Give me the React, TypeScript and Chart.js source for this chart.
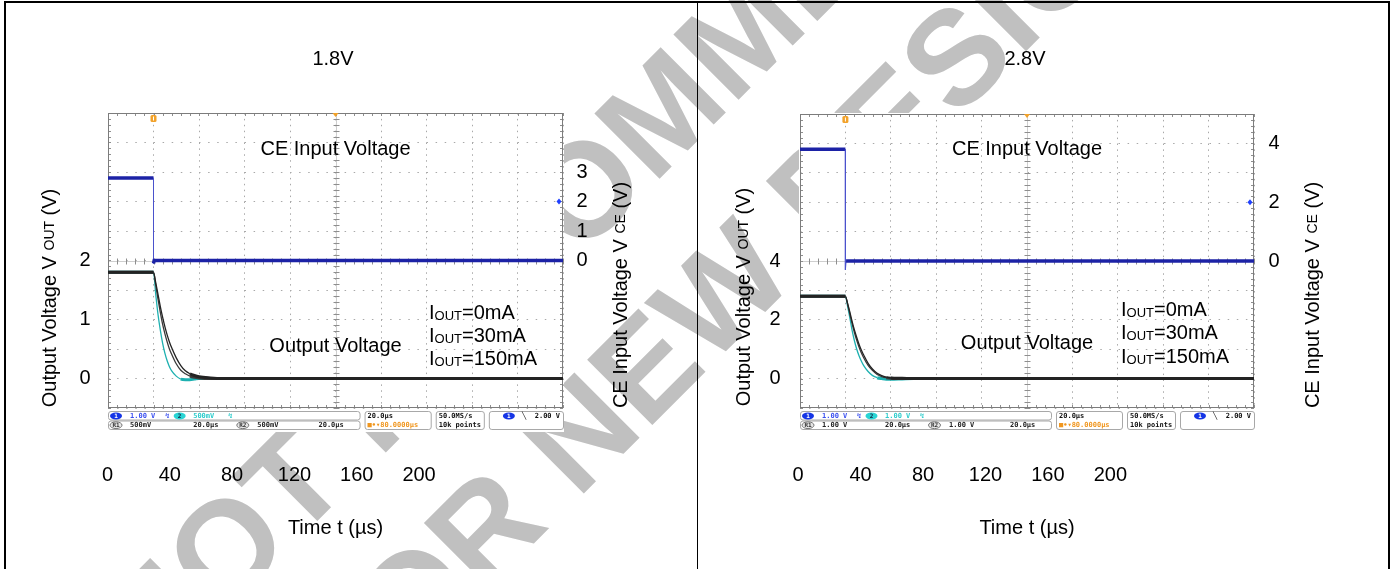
import React, { useEffect, useRef } from 'react';
import { Chart, registerables } from 'chart.js';

Chart.register(...registerables);

const FONT = '"Liberation Sans", Arial, Helvetica, sans-serif';
const MONO = '"DejaVu Sans Mono", monospace';
const PAGE_H = 569;

// ---------- data (time in µs, voltages in V) ----------
const timeUs = [0, 20, 21, 22, 23, 24, 25, 26, 27, 28, 30, 32, 34, 36, 38, 40, 45, 50, 200];
const ceTimeUs = [0, 20, 20, 20.3, 200];

// 1.8V version
const ce18V = [2.8, 2.8, -0.1, 0, 0];
const out18V_0mA = [1.8, 1.8, 1.62, 1.42, 1.22, 1.04, 0.88, 0.74, 0.62, 0.52, 0.35, 0.22, 0.13, 0.08, 0.05, 0.03, 0.01, 0, 0];
const out18V_30mA = [1.8, 1.8, 1.58, 1.34, 1.12, 0.92, 0.76, 0.62, 0.5, 0.41, 0.25, 0.14, 0.08, 0.04, 0.02, 0.01, 0, 0, 0];
const out18V_150mA = [1.8, 1.8, 1.42, 1.08, 0.82, 0.6, 0.43, 0.3, 0.2, 0.13, 0.04, -0.01, -0.02, -0.02, -0.01, 0, 0, 0, 0];

// 2.8V version
const ce28V = [3.8, 3.8, -0.3, 0, 0];
const out28V_0mA = [2.8, 2.8, 2.55, 2.25, 1.93, 1.65, 1.4, 1.17, 0.97, 0.81, 0.52, 0.32, 0.18, 0.1, 0.05, 0.02, 0.01, 0, 0];
const out28V_30mA = [2.8, 2.8, 2.52, 2.18, 1.85, 1.56, 1.3, 1.07, 0.88, 0.72, 0.45, 0.27, 0.14, 0.07, 0.03, 0.01, 0, 0, 0];
const out28V_150mA = [2.8, 2.8, 2.45, 2.05, 1.62, 1.28, 1.0, 0.78, 0.6, 0.45, 0.24, 0.1, 0.03, 0, -0.02, -0.02, -0.01, 0, 0];

// tick labels
const timeTickLabels = [0, 40, 80, 120, 160, 200];
const out18Ticks = [0, 1, 2];
const ce18Ticks = [0, 1, 2, 3];
const out28Ticks = [0, 2, 4];
const ce28Ticks = [0, 2, 4];
const loadLabels = ['=0mA', '=30mA', '=150mA'];

// ---------- panel configuration (layout / styling) ----------
type PanelCfg = {
  key: string;
  offsetX: number;
  width: number;
  plot: { left: number; right: number; top: number; bottom: number };
  title: string;
  titlePos: [number, number];
  outRange: [number, number];
  outTicks: number[];
  ceTicks: number[];
  ce: number[];
  outs: number[][];
  timeLabelRange: [number, number];
  leftTickPad: number;
  rightTickPad: number;
  leftTitle: [number, number];
  rightTitle: [number, number];
  ceText: [number, number];
  outText: [number, number];
  legendX: number;
  legendY: number[];
  ch2: string;
  ref: string;
};

const panels: PanelCfg[] = [
  {
    key: 'p18',
    offsetX: 0,
    width: 697,
    plot: { left: 108, right: 563, top: 113, bottom: 408 },
    title: '1.8V',
    titlePos: [333, 58],
    outRange: [-0.5, 4.5],
    outTicks: out18Ticks,
    ceTicks: ce18Ticks,
    ce: ce18V,
    outs: [out18V_0mA, out18V_30mA, out18V_150mA],
    timeLabelRange: [0.32, 292.4],
    leftTickPad: 17.5,
    rightTickPad: 13.5,
    leftTitle: [49, 298],
    rightTitle: [620, 295],
    ceText: [100, 3.8],
    outText: [100, 0.57],
    legendX: 141.1,
    legendY: [1.13, 0.74, 0.35],
    ch2: '500mV',
    ref: '500mV',
  },
  {
    key: 'p28',
    offsetX: 697,
    width: 695,
    plot: { left: 800, right: 1254, top: 114, bottom: 408 },
    title: '2.8V',
    titlePos: [1025, 58],
    outRange: [-1, 9],
    outTicks: out28Ticks,
    ceTicks: ce28Ticks,
    ce: ce28V,
    outs: [out28V_0mA, out28V_30mA, out28V_150mA],
    timeLabelRange: [1.22, 292.0],
    leftTickPad: 19.5,
    rightTickPad: 14.5,
    leftTitle: [743, 297],
    rightTitle: [1312, 295],
    ceText: [100, 3.84],
    outText: [100, 1.24],
    legendX: 141.4,
    legendY: [2.37, 1.58, 0.77],
    ch2: '1.00 V',
    ref: '1.00 V',
  },
];

const CE_COLOR = '#1c22a6';
const TRACE_COLORS = ['#232323', '#3a3a3a', '#1db0b0'];

// ---------- drawing helpers ----------
type Part = { t: string; size: number; dy?: number };

function partsWidth(ctx: CanvasRenderingContext2D, parts: Part[]) {
  let w = 0;
  for (const p of parts) {
    ctx.font = `${p.size}px ${FONT}`;
    w += ctx.measureText(p.t).width;
  }
  return w;
}

function drawParts(ctx: CanvasRenderingContext2D, parts: Part[], x: number, baseline: number) {
  let cx = x;
  ctx.textAlign = 'left';
  ctx.textBaseline = 'alphabetic';
  for (const p of parts) {
    ctx.font = `${p.size}px ${FONT}`;
    ctx.fillText(p.t, cx, baseline + (p.dy || 0));
    cx += ctx.measureText(p.t).width;
  }
}

function drawRotatedTitle(ctx: CanvasRenderingContext2D, parts: Part[], cx: number, cy: number) {
  ctx.save();
  ctx.fillStyle = '#000';
  ctx.translate(cx, cy);
  ctx.rotate(-Math.PI / 2);
  const w = partsWidth(ctx, parts);
  drawParts(ctx, parts, -w / 2, 7);
  ctx.restore();
}

function drawWatermark(ctx: CanvasRenderingContext2D) {
  const ang = Math.PI / 4;
  ctx.fillStyle = '#c0c0c0';
  ctx.font = `bold 134px ${FONT}`;
  ctx.textAlign = 'left';
  ctx.textBaseline = 'middle';
  const lines: [string, number, number][] = [
    ['NOT RECOMMENDED', 127, 659],
    ['FOR NEW DESIGN', 325, 700],
  ];
  for (const [txt, x, y] of lines) {
    ctx.save();
    ctx.translate(x, y);
    ctx.rotate(-ang);
    ctx.fillText(txt, 0, 0);
    ctx.restore();
  }
}

function line(ctx: CanvasRenderingContext2D, x1: number, y1: number, x2: number, y2: number) {
  ctx.beginPath();
  ctx.moveTo(x1, y1);
  ctx.lineTo(x2, y2);
  ctx.stroke();
}

function rrect(ctx: CanvasRenderingContext2D, x: number, y: number, w: number, h: number, r: number) {
  ctx.beginPath();
  if ((ctx as any).roundRect) (ctx as any).roundRect(x, y, w, h, r);
  else ctx.rect(x, y, w, h);
}

function drawStatusBar(ctx: CanvasRenderingContext2D, L: number, R: number, top: number, cfg: PanelCfg) {
  const k = (R - L) / 454;
  const X = (v: number) => L + v * k;
  ctx.save();
  ctx.lineWidth = 1;
  ctx.strokeStyle = '#a8a8a8';
  ctx.fillStyle = '#fff';
  const box = (x0: number, x1: number, y: number, h: number) => {
    rrect(ctx, X(x0) + 0.5, y + 0.5, (x1 - x0) * k, h, 2.5);
    ctx.fill();
    ctx.stroke();
  };
  box(0, 251, top, 8.5);
  box(0, 251, top + 9.5, 8.5);
  box(256, 322, top, 18);
  box(327, 375, top, 18);
  box(380, 454, top, 18);
  const r1 = top + 5;
  const r2 = top + 14.2;
  const txt = (s: string, x: number, y: number, c: string, align: CanvasTextAlign = 'left') => {
    ctx.font = `bold 7px ${MONO}`;
    ctx.textAlign = align;
    ctx.textBaseline = 'middle';
    ctx.fillStyle = c;
    ctx.fillText(s, X(x), y);
  };
  const badge = (x: number, y: number, label: string, fill: string, tc: string, outline = false) => {
    ctx.beginPath();
    ctx.ellipse(X(x), y, 6 * k, 3.4, 0, 0, Math.PI * 2);
    ctx.fillStyle = fill;
    ctx.fill();
    if (outline) {
      ctx.strokeStyle = '#777';
      ctx.stroke();
    }
    ctx.font = `bold 6px ${MONO}`;
    ctx.textAlign = 'center';
    ctx.textBaseline = 'middle';
    ctx.fillStyle = tc;
    ctx.fillText(label, X(x), y + 0.3);
  };
  badge(8, r1, '1', '#1535e6', '#fff');
  txt('1.00 V', 22, r1, '#3a50f0');
  txt('\u21AF', 57, r1, '#3a50f0');
  badge(71.5, r1, '2', '#29d4d4', '#124');
  txt(cfg.ch2, 85, r1, '#2ccccc');
  txt('\u21AF', 120, r1, '#2ccccc');
  badge(8, r2, 'R1', '#e6e6e6', '#333', true);
  txt(cfg.ref, 22, r2, '#222');
  txt('20.0\u00B5s', 85, r2, '#222');
  badge(134.5, r2, 'R2', '#e6e6e6', '#333', true);
  txt(cfg.ref, 149, r2, '#222');
  txt('20.0\u00B5s', 210, r2, '#222');
  txt('20.0\u00B5s', 259, r1, '#111');
  txt('\u25A0\u2022\u25BE80.0000\u00B5s', 259, r2, '#f0961e');
  txt('50.0MS/s', 330, r1, '#111');
  txt('10k points', 330, r2, '#111');
  badge(400, r1, '1', '#1535e6', '#fff');
  txt('\u2572', 413, r1, '#111');
  txt('2.00 V', 451, r1, '#111', 'right');
  ctx.restore();
}

function makeDecor(cfg: PanelCfg) {
  const ox = cfg.offsetX;
  return {
    id: 'scopeDecor_' + cfg.key,
    beforeDraw(chart: any) {
      const ctx: CanvasRenderingContext2D = chart.ctx;
      const a = chart.chartArea;
      ctx.save();
      ctx.translate(-ox, 0);
      drawWatermark(ctx);
      ctx.restore();
      ctx.save();
      ctx.fillStyle = '#ffffff';
      ctx.fillRect(a.left - 1, a.top - 1, a.right - a.left + 2, a.bottom - a.top + 25);
      ctx.restore();
    },
    beforeDatasetsDraw(chart: any) {
      const ctx: CanvasRenderingContext2D = chart.ctx;
      const a = chart.chartArea;
      const xs = chart.scales.x;
      const yg = chart.scales.yg;
      ctx.save();
      ctx.lineWidth = 1;
      const cx = Math.round(xs.getPixelForValue(100)) + 0.5;
      const cy = Math.round(yg.getPixelForValue(0)) + 0.5;
      ctx.strokeStyle = '#cfcfcf';
      line(ctx, cx, a.top, cx, a.bottom);
      line(ctx, a.left, cy, a.right, cy);
      ctx.strokeStyle = '#8e8e8e';
      for (let t = 0; t <= 200.001; t += 4) {
        const px = Math.round(xs.getPixelForValue(t)) + 0.5;
        line(ctx, px, cy - 3, px, cy + 3);
        line(ctx, px, a.top, px, a.top + 3);
        line(ctx, px, a.bottom - 3, px, a.bottom);
      }
      for (let v = -5; v <= 5.001; v += 0.2) {
        const py = Math.round(yg.getPixelForValue(v)) + 0.5;
        line(ctx, cx - 3, py, cx + 3, py);
        line(ctx, a.left, py, a.left + 3, py);
        line(ctx, a.right - 3, py, a.right, py);
      }
      ctx.strokeStyle = '#7c7c7c';
      ctx.strokeRect(a.left + 0.5, a.top + 0.5, a.right - a.left - 1, a.bottom - a.top - 1);
      ctx.restore();
    },
    afterDatasetsDraw(chart: any) {
      const ctx: CanvasRenderingContext2D = chart.ctx;
      const a = chart.chartArea;
      const xs = chart.scales.x;
      const yL = chart.scales.yL;
      const yR = chart.scales.yR;
      ctx.save();
      // trigger position marker
      const tx = xs.getPixelForValue(20);
      ctx.fillStyle = '#f2a22a';
      rrect(ctx, tx - 3, a.top + 2, 6, 7, 1.5);
      ctx.fill();
      ctx.fillStyle = '#fff';
      ctx.fillRect(tx - 0.5, a.top + 3.5, 1, 4);
      // horizontal position marker
      const mx = xs.getPixelForValue(100);
      ctx.fillStyle = '#f2a22a';
      ctx.beginPath();
      ctx.moveTo(mx - 3, a.top);
      ctx.lineTo(mx + 3, a.top);
      ctx.lineTo(mx, a.top + 4);
      ctx.closePath();
      ctx.fill();
      // trigger level marker
      const ty = yR.getPixelForValue(2);
      ctx.fillStyle = '#2040ff';
      ctx.beginPath();
      ctx.moveTo(a.right - 4, ty - 3);
      ctx.lineTo(a.right - 1.5, ty);
      ctx.lineTo(a.right - 4, ty + 3);
      ctx.lineTo(a.right - 6.5, ty);
      ctx.closePath();
      ctx.fill();
      // annotations
      ctx.fillStyle = '#000';
      ctx.font = `20px ${FONT}`;
      ctx.textAlign = 'center';
      ctx.textBaseline = 'alphabetic';
      ctx.fillText('CE Input Voltage', xs.getPixelForValue(cfg.ceText[0]), yR.getPixelForValue(cfg.ceText[1]) + 7);
      ctx.fillText('Output Voltage', xs.getPixelForValue(cfg.outText[0]), yL.getPixelForValue(cfg.outText[1]) + 7);
      const lx = xs.getPixelForValue(cfg.legendX);
      loadLabels.forEach((lab, i) => {
        const y = yL.getPixelForValue(cfg.legendY[i]) + 7;
        drawParts(ctx, [{ t: 'I', size: 20 }, { t: 'OUT', size: 13, dy: 1 }, { t: lab, size: 20 }], lx, y);
      });
      ctx.restore();
    },
    afterDraw(chart: any) {
      const ctx: CanvasRenderingContext2D = chart.ctx;
      const a = chart.chartArea;
      ctx.save();
      ctx.fillStyle = '#000';
      ctx.font = `20px ${FONT}`;
      ctx.textAlign = 'center';
      ctx.textBaseline = 'alphabetic';
      ctx.fillText(cfg.title, cfg.titlePos[0] - ox, cfg.titlePos[1] + 7);
      drawRotatedTitle(
        ctx,
        [{ t: 'Output Voltage V ', size: 20 }, { t: 'OUT', size: 14, dy: -2 }, { t: ' (V)', size: 20 }],
        cfg.leftTitle[0] - ox,
        cfg.leftTitle[1]
      );
      drawRotatedTitle(
        ctx,
        [{ t: 'CE Input Voltage V ', size: 20 }, { t: 'CE', size: 14, dy: -2 }, { t: ' (V)', size: 20 }],
        cfg.rightTitle[0] - ox,
        cfg.rightTitle[1]
      );
      drawStatusBar(ctx, a.left, a.right, a.bottom + 3, cfg);
      ctx.restore();
    },
  };
}

function buildConfig(cfg: PanelCfg): any {
  const ox = cfg.offsetX;
  const L = cfg.plot.left - ox;
  const R = cfg.plot.right - ox;
  const T = cfg.plot.top;
  const B = cfg.plot.bottom;
  const pts = (xs: number[], ys: number[]) => xs.map((x, i) => ({ x, y: ys[i] }));
  const tickFont = { family: FONT, size: 20 };
  const outDatasets = cfg.outs.map((arr, i) => ({
    label: 'IOUT' + loadLabels[i],
    data: pts(timeUs, arr),
    yAxisID: 'yL',
    xAxisID: 'x',
    borderColor: TRACE_COLORS[i],
    borderWidth: 3,
    pointRadius: 0,
    cubicInterpolationMode: 'monotone',
    segment: {
      borderWidth: (c: any) => (Math.abs(c.p1.parsed.y - c.p0.parsed.y) > 0.03 ? 1.3 : 3),
    },
  }));
  return {
    type: 'line',
    data: {
      datasets: [
        {
          label: 'CE Input Voltage',
          data: pts(ceTimeUs, cfg.ce),
          yAxisID: 'yR',
          xAxisID: 'x',
          borderColor: CE_COLOR,
          borderWidth: 3.5,
          pointRadius: 0,
          tension: 0,
          segment: {
            borderWidth: (c: any) => (Math.abs(c.p1.parsed.y - c.p0.parsed.y) > 0.2 ? 1 : 3.5),
            borderColor: (c: any) => (Math.abs(c.p1.parsed.y - c.p0.parsed.y) > 0.2 ? '#4a52cc' : CE_COLOR),
          },
        },
        ...outDatasets,
      ],
    },
    options: {
      responsive: false,
      animation: false,
      events: [],
      layout: { padding: { left: 0, right: 0, top: T, bottom: 0 }, autoPadding: false },
      plugins: {
        legend: { display: false },
        tooltip: { enabled: false },
        title: { display: false },
      },
      scales: {
        x: {
          type: 'linear',
          position: 'bottom',
          min: 0,
          max: 200,
          ticks: { stepSize: 20, display: false },
          grid: { color: '#a9a9a9', drawTicks: false },
          border: { display: false, dash: [1.5, 4.4] },
          afterFit: (s: any) => {
            s.height = 0;
          },
        },
        xl: {
          type: 'linear',
          position: 'bottom',
          min: cfg.timeLabelRange[0],
          max: cfg.timeLabelRange[1],
          afterBuildTicks: (s: any) => {
            s.ticks = timeTickLabels.map((v) => ({ value: v }));
          },
          ticks: { font: tickFont, color: '#000', padding: 55, maxRotation: 0, autoSkip: false },
          grid: { display: false, drawTicks: false },
          border: { display: false },
          title: {
            display: true,
            text: 'Time t (\u00B5s)',
            font: tickFont,
            color: '#000',
            padding: { top: 29, bottom: 29 },
          },
          afterFit: (s: any) => {
            s.height = PAGE_H - B;
          },
        },
        yg: {
          type: 'linear',
          position: 'left',
          min: -5,
          max: 5,
          ticks: { stepSize: 1, display: false },
          grid: { color: '#a9a9a9', drawTicks: false },
          border: { display: false, dash: [1.5, 7.6] },
          afterFit: (s: any) => {
            s.width = 0;
          },
        },
        yL: {
          type: 'linear',
          position: 'left',
          min: cfg.outRange[0],
          max: cfg.outRange[1],
          afterBuildTicks: (s: any) => {
            s.ticks = cfg.outTicks.map((v) => ({ value: v }));
          },
          ticks: { font: tickFont, color: '#000', padding: cfg.leftTickPad, autoSkip: false },
          grid: { display: false, drawTicks: false },
          border: { display: false },
          afterFit: (s: any) => {
            s.width = L;
          },
        },
        yR: {
          type: 'linear',
          position: 'right',
          min: -5,
          max: 5,
          afterBuildTicks: (s: any) => {
            s.ticks = cfg.ceTicks.map((v) => ({ value: v }));
          },
          ticks: { font: tickFont, color: '#000', padding: cfg.rightTickPad, autoSkip: false },
          grid: { display: false, drawTicks: false },
          border: { display: false },
          afterFit: (s: any) => {
            s.width = cfg.width - R;
          },
        },
      },
    },
    plugins: [makeDecor(cfg)],
  };
}

function ScopePanel({ cfg }: { cfg: PanelCfg }) {
  const ref = useRef<HTMLCanvasElement>(null);
  useEffect(() => {
    const canvas = ref.current;
    if (!canvas) return;
    const chart = new Chart(canvas, buildConfig(cfg));
    return () => chart.destroy();
  }, [cfg]);
  return (
    <canvas
      ref={ref}
      width={cfg.width}
      height={PAGE_H}
      style={{ position: 'absolute', left: cfg.offsetX, top: 0, width: cfg.width, height: PAGE_H, display: 'block' }}
    />
  );
}

export default function App() {
  const bar = (left: number, top: number, width: number, height: number) => (
    <div style={{ position: 'absolute', left, top, width, height, background: '#000', zIndex: 2 }} />
  );
  return (
    <div style={{ position: 'relative', width: 1392, height: PAGE_H, background: '#fff', overflow: 'hidden' }}>
      <style>{'html,body{margin:0;padding:0;background:#fff;}'}</style>
      {panels.map((p) => (
        <ScopePanel key={p.key} cfg={p} />
      ))}
      {bar(4, 1, 1386, 2)}
      {bar(4, 1, 2, PAGE_H)}
      {bar(1388, 1, 2, PAGE_H)}
      {bar(697, 1, 1, PAGE_H)}
    </div>
  );
}
